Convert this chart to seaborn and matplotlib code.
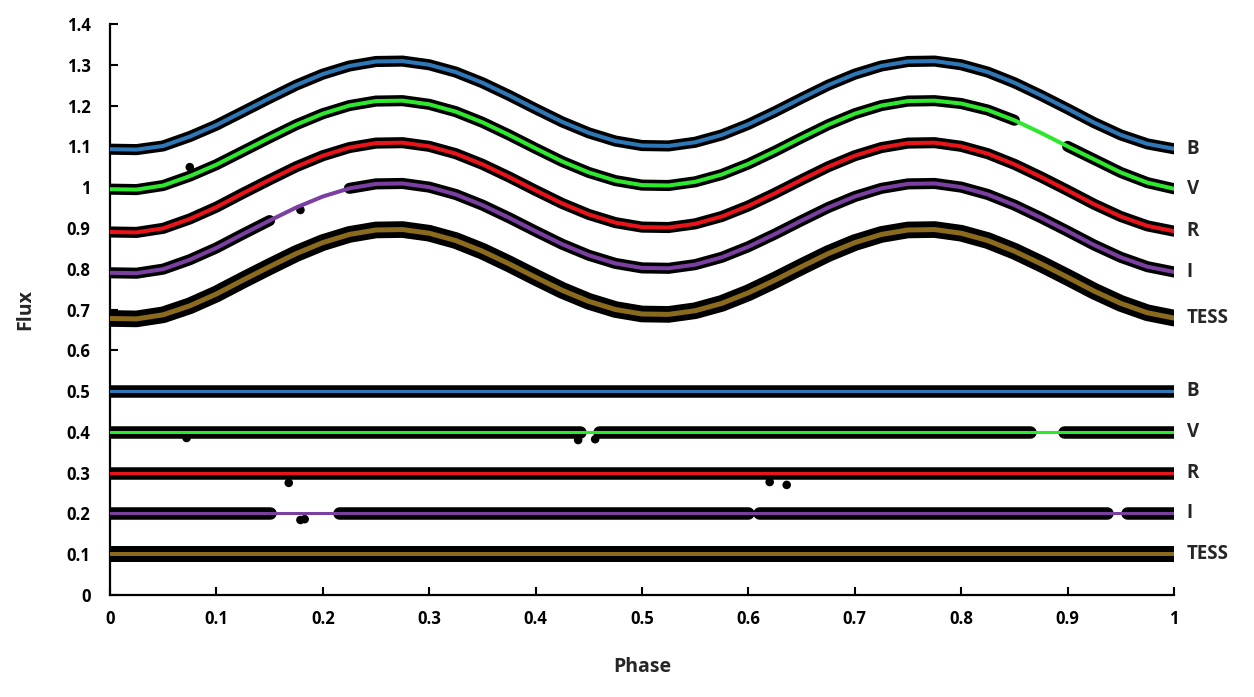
import numpy as np
import pandas as pd
import seaborn as sns
import matplotlib.pyplot as plt
from matplotlib.ticker import FuncFormatter, MultipleLocator

# phase grid of the fitted curves
PHASE = [round(i * 0.025, 3) for i in range(41)]
BANDS = ['B', 'V', 'R', 'I', 'TESS']

# model light curves
B_MODEL = [1.093, 1.092, 1.101, 1.124, 1.152, 1.185, 1.218, 1.250, 1.277, 1.297, 1.308,
           1.309, 1.300, 1.282, 1.256, 1.225, 1.192, 1.160, 1.133, 1.113, 1.102,
           1.101, 1.110, 1.128, 1.154, 1.185, 1.218, 1.250, 1.277, 1.297, 1.308,
           1.309, 1.300, 1.282, 1.256, 1.225, 1.192, 1.158, 1.128, 1.106, 1.094]
V_MODEL = [0.995, 0.994, 1.004, 1.027, 1.055, 1.088, 1.121, 1.153, 1.180, 1.200, 1.211,
           1.212, 1.203, 1.185, 1.159, 1.128, 1.095, 1.063, 1.036, 1.016, 1.005,
           1.004, 1.013, 1.031, 1.057, 1.088, 1.121, 1.153, 1.180, 1.200, 1.211,
           1.212, 1.205, 1.189, 1.164, 1.133, 1.100, 1.068, 1.036, 1.011, 0.996]
R_MODEL = [0.890, 0.889, 0.899, 0.922, 0.951, 0.985, 1.018, 1.050, 1.077, 1.097, 1.108,
           1.109, 1.100, 1.082, 1.056, 1.025, 0.992, 0.960, 0.933, 0.913, 0.902,
           0.901, 0.910, 0.928, 0.954, 0.985, 1.018, 1.050, 1.077, 1.097, 1.108,
           1.109, 1.100, 1.082, 1.056, 1.025, 0.992, 0.958, 0.928, 0.905, 0.892]
I_MODEL = [0.790, 0.789, 0.799, 0.822, 0.851, 0.885, 0.918, 0.950, 0.977, 0.997, 1.008,
           1.009, 1.000, 0.982, 0.956, 0.925, 0.892, 0.860, 0.833, 0.813, 0.802,
           0.801, 0.810, 0.828, 0.854, 0.885, 0.918, 0.950, 0.977, 0.997, 1.008,
           1.009, 1.000, 0.982, 0.956, 0.925, 0.892, 0.858, 0.828, 0.805, 0.792]
TESS_MODEL = [0.678, 0.677, 0.687, 0.709, 0.738, 0.772, 0.805, 0.837, 0.864, 0.884, 0.895,
              0.896, 0.887, 0.869, 0.843, 0.812, 0.779, 0.747, 0.720, 0.700, 0.689,
              0.688, 0.697, 0.715, 0.741, 0.772, 0.805, 0.837, 0.864, 0.884, 0.895,
              0.896, 0.887, 0.869, 0.843, 0.812, 0.779, 0.745, 0.715, 0.692, 0.679]
MODELS = [B_MODEL, V_MODEL, R_MODEL, I_MODEL, TESS_MODEL]

# residuals are shifted to these levels
RES_LEVEL = [0.5, 0.4, 0.3, 0.2, 0.1]

# phase ranges with no observations
LC_GAPS = [[], [(0.865, 0.897)], [], [(0.15, 0.215)], []]
RES_SEGMENTS = [[(0.0, 1.0)],
                [(0.0, 0.442), (0.46, 0.865), (0.897, 1.0)],
                [(0.0, 1.0)],
                [(0.0, 0.15), (0.215, 0.6), (0.61, 0.937), (0.956, 1.0)],
                [(0.0, 1.0)]]

# stray observations that sit off the dense bands
STRAY_PHASE = [0.179, 0.075, 0.072, 0.440, 0.456, 0.168, 0.620, 0.636, 0.179, 0.183]
STRAY_FLUX = [0.944, 1.049, 0.385, 0.380, 0.382, 0.275, 0.277, 0.270, 0.184, 0.186]

COLORS = ['#2e78b7', '#2ee82e', '#e8141a', '#7a3fa0', '#8a6a1c']

sns.set_theme(style='ticks')
plt.rcParams['font.family'] = ['Open Sans', 'DejaVu Sans']
plt.rcParams['font.weight'] = 'bold'

fig = plt.figure(figsize=(12.54, 6.97), dpi=100)
ax = fig.add_axes([0.0877, 0.1463, 0.8485, 0.8193])

# observed light curves (dense black bands under the fits)
for i, band in enumerate(BANDS):
    rows = []
    seg = 0
    for p, f in zip(PHASE, MODELS[i]):
        if any(a < p < b for a, b in LC_GAPS[i]):
            seg += 1
            continue
        rows.append((p, f, seg))
    df = pd.DataFrame(rows, columns=['phase', 'flux', 'seg'])
    lw = 12 if band == 'TESS' else 8
    sns.lineplot(data=df, x='phase', y='flux', units='seg', estimator=None, color='black',
                 lw=lw, sort=False, ax=ax, solid_capstyle='round', zorder=2)

# observed residuals
for i, band in enumerate(BANDS):
    rows = []
    for s, (a, b) in enumerate(RES_SEGMENTS[i]):
        rows.append((a, RES_LEVEL[i], s))
        rows.append((b, RES_LEVEL[i], s))
    df = pd.DataFrame(rows, columns=['phase', 'flux', 'seg'])
    lw = 11.5 if band == 'TESS' else 9
    sns.lineplot(data=df, x='phase', y='flux', units='seg', estimator=None, color='black',
                 lw=lw, sort=False, ax=ax, solid_capstyle='round', zorder=2)

sns.scatterplot(x=STRAY_PHASE, y=STRAY_FLUX, color='black', s=38, edgecolor='none',
                ax=ax, zorder=2)

# fitted curves and zero lines of the residuals
for i, band in enumerate(BANDS):
    lw = 3.6 if band == 'TESS' else 2.9
    sns.lineplot(x=PHASE, y=MODELS[i], color=COLORS[i], lw=lw, sort=False, ax=ax,
                 solid_capstyle='round', zorder=3)
    lw = 2.9 if band == 'TESS' else 2.2
    sns.lineplot(x=[0, 1], y=[RES_LEVEL[i], RES_LEVEL[i]], color=COLORS[i], lw=lw,
                 ax=ax, solid_capstyle='round', zorder=3)
    ax.text(1.012, MODELS[i][-1], band, ha='left', va='center', fontsize=13.5,
            fontweight='bold', clip_on=False)
    ax.text(1.012, RES_LEVEL[i], band, ha='left', va='center', fontsize=13.5,
            fontweight='bold', clip_on=False)

ax.set_xlim(0, 1)
ax.set_ylim(0, 1.4)
ax.xaxis.set_major_locator(MultipleLocator(0.1))
ax.yaxis.set_major_locator(MultipleLocator(0.1))
fmt = FuncFormatter(lambda v, pos: '%g' % round(v, 2))
ax.xaxis.set_major_formatter(fmt)
ax.yaxis.set_major_formatter(fmt)
ax.tick_params(axis='both', direction='in', length=6, width=1.5, labelsize=12,
               colors='black')
ax.tick_params(axis='x', pad=11)
ax.tick_params(axis='y', pad=14)
for lab in ax.get_xticklabels() + ax.get_yticklabels():
    lab.set_fontweight('bold')

sns.despine(ax=ax)
for side in ['left', 'bottom']:
    ax.spines[side].set_linewidth(1.6)
    ax.spines[side].set_color('black')

ax.set_xlabel('Phase', fontsize=14, fontweight='bold')
ax.set_ylabel('Flux', fontsize=14, fontweight='bold')
ax.xaxis.set_label_coords(0.5, -0.108)
ax.yaxis.set_label_coords(-0.0705, 0.5)

plt.savefig('out.png', dpi=100)
